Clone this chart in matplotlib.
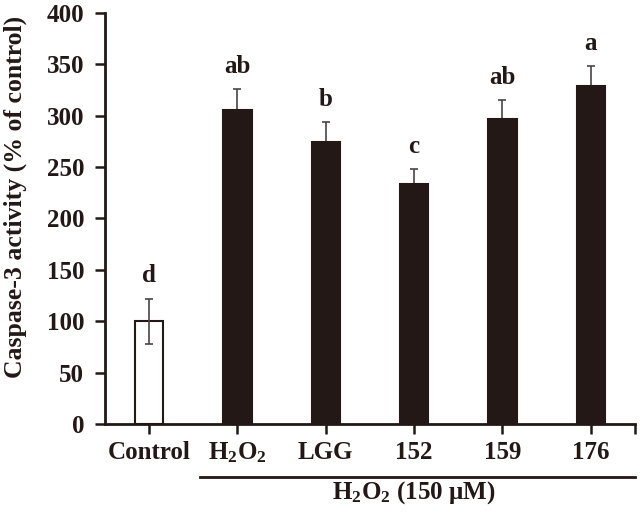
import numpy as np
import matplotlib
matplotlib.use("Agg")
import matplotlib.pyplot as plt

# ── Style ─────────────────────────────────────────────────────
plt.rcParams["font.family"] = ["Liberation Serif", "DejaVu Serif"]
plt.rcParams["font.weight"] = "bold"
plt.rcParams["mathtext.fontset"] = "custom"
plt.rcParams["mathtext.rm"] = "Liberation Serif:bold"
plt.rcParams["mathtext.bf"] = "Liberation Serif:bold"
plt.rcParams["mathtext.it"] = "Liberation Serif:bold:italic"

BAR_DARK = "#231815"
ERR_COL  = "#4a4545"
FS = 18

# ── Data ──────────────────────────────────────────────────────
groups  = ["Control", "H$_2$O$_2$", "LGG", "152", "159", "176"]
means   = [100, 306, 274, 234, 297, 329]
errors  = [22, 20, 20, 14, 18, 19]
letters = ["d", "ab", "b", "c", "ab", "a"]
filled  = [False, True, True, True, True, True]

# ── Figure ────────────────────────────────────────────────────
fig = plt.figure(figsize=(6.4, 5.18), dpi=100)
ax = fig.add_axes([0.164, 0.1815, 0.828, 0.7935])

x = np.arange(len(groups))
means_a = np.array(means)
err = np.array(errors)
fill_a = np.array(filled)
face = [BAR_DARK if f else "white" for f in filled]
ax.bar(x, means, width=0.32, color=face, edgecolor=BAR_DARK,
       linewidth=1.5, zorder=2)

# filled bars: error bar behind the bar so only the upper half shows
ax.errorbar(x[fill_a], means_a[fill_a], yerr=err[fill_a], fmt="none",
            ecolor=ERR_COL, elinewidth=1.2, capsize=3, capthick=1.2,
            zorder=1)
# open bars: full error bar on top
ax.errorbar(x[~fill_a], means_a[~fill_a], yerr=err[~fill_a], fmt="none",
            ecolor=ERR_COL, elinewidth=1.2, capsize=3, capthick=1.2,
            zorder=3)

for xi, m, e, lab in zip(x, means, errors, letters):
    ax.text(xi, m + e + 11, lab, ha="center", va="bottom",
            fontsize=FS, fontweight="bold", color=BAR_DARK)

ax.set_xlim(-0.5, len(groups) - 0.5)
ax.set_ylim(0, 400)
ax.set_yticks(np.arange(0, 401, 50))
ax.set_xticks(x)
ax.set_xticklabels(groups)
ax.set_xticks([len(groups) - 0.5], minor=True)

for side in ["top", "right"]:
    ax.spines[side].set_visible(False)
for side in ["left", "bottom"]:
    ax.spines[side].set_linewidth(2)
    ax.spines[side].set_color(BAR_DARK)

ax.tick_params(axis="both", which="both", direction="out", width=1.8,
               length=7, color=BAR_DARK, labelsize=FS, labelcolor=BAR_DARK)
ax.tick_params(axis="x", pad=5)
ax.tick_params(axis="y", pad=8)

ax.set_ylabel("Caspase-3 activity (% of control)", fontsize=18.5,
              fontweight="bold", color=BAR_DARK)
ax.yaxis.set_label_coords(-0.148, 0.552)

# bracket line under the H2O2-treated groups
ax.plot([0.58, len(groups) - 0.5], [-52, -52], color=BAR_DARK, lw=2,
        clip_on=False)
ax.text((1 + len(groups) - 1) / 2, -67, "H$_2$O$_2$ (150 μM)",
        ha="center", va="center", fontsize=FS, fontweight="bold",
        color=BAR_DARK)

fig.savefig("out.png", dpi=100)
